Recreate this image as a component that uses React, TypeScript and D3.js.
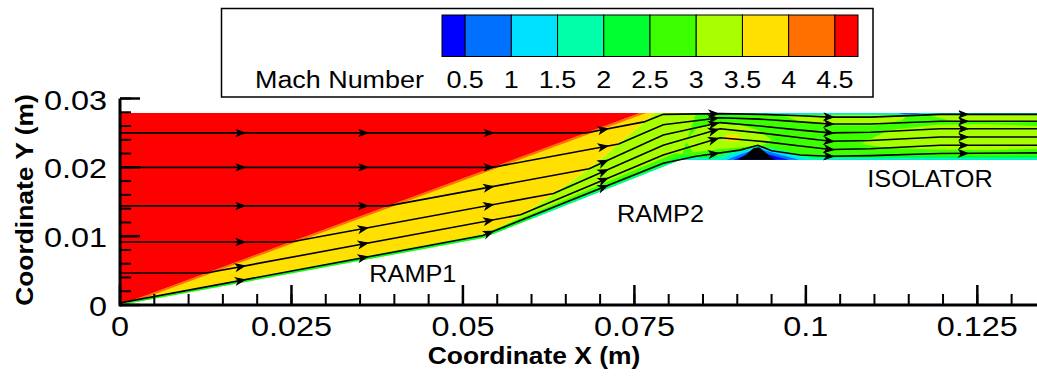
import React from "react";
import * as d3 from "d3";

type Pt = number[];

// Mach legend
const machTicks = [0.5, 1, 1.5, 2, 2.5, 3, 3.5, 4, 4.5];
const machTickLabels = ["0.5", "1", "1.5", "2", "2.5", "3", "3.5", "4", "4.5"];
const machColors = [
  "#0000ff", "#0070ff", "#00e0ff", "#00ffa8", "#00ff30",
  "#3cff00", "#a8ff00", "#ffe000", "#ff7000", "#ff0000",
];
const machRange = [0.25, 4.75];

// axes (m)
const xMajor = [0, 0.025, 0.05, 0.075, 0.1, 0.125];
const xMajorLabels = ["0", "0.025", "0.05", "0.075", "0.1", "0.125"];
const yMajor = [0, 0.01, 0.02, 0.03];
const yMajorLabels = ["0", "0.01", "0.02", "0.03"];

// contour zones: [x, y] in metres, with the Mach number of the band
const limeZone: Pt[] = [[0.0529, 0.00973], [0.06, 0.014], [0.068, 0.0195], [0.074, 0.0245], [0.078, 0.0279], [0.084, 0.0279], [0.083, 0.0211], [0.0817, 0.0211]];
const yellowZone: Pt[] = [[0, 0], [0.0758, 0.0279], [0.078, 0.0279], [0.074, 0.0245], [0.068, 0.0195], [0.06, 0.014], [0.0529, 0.00973]];
const shockBand: Pt[] = [[0, 0], [0.0758, 0.0279], [0.0767, 0.0279], [0.0008, 0]];
const redZone: Pt[] = [[0, 0], [0, 0.0279], [0.0758, 0.0279]];
const ramp1Lime: Pt[] = [[0, 0], [0.0529, 0.00973], [0.0532, 0.0104], [0.0015, 0.0006]];
const ramp1Green: Pt[] = [[0, 0], [0.0529, 0.00973], [0.0531, 0.0101], [0.0012, 0.0004]];
const isolatorZone: Pt[] = [[0.0817, 0.0211], [0.084, 0.0279], [0.1337, 0.0279], [0.1337, 0.0211]];
const limePatch1: Pt[] = [[0.0825, 0.0238], [0.084, 0.0256], [0.087, 0.0264], [0.0905, 0.0262], [0.093, 0.0254], [0.095, 0.024], [0.0938, 0.0232], [0.0905, 0.0229], [0.087, 0.0226], [0.0835, 0.0222]];
const limePatch2: Pt[] = [[0.096, 0.0278], [0.099, 0.0267], [0.104, 0.0261], [0.11, 0.0261], [0.114, 0.0268], [0.115, 0.0278]];
const limePatch3: Pt[] = [[0.108, 0.0234], [0.112, 0.0254], [0.119, 0.0262], [0.126, 0.0263], [0.1337, 0.026], [0.1337, 0.0227], [0.127, 0.0225], [0.119, 0.0226], [0.112, 0.0228]];
const limePatch4: Pt[] = [[0.117, 0.0278], [0.121, 0.0268], [0.128, 0.0265], [0.1337, 0.0266], [0.1337, 0.0278]];
const yellowCore: Pt[] = [[0.0878, 0.0243], [0.0886, 0.0248], [0.0899, 0.0248], [0.0908, 0.0242], [0.0898, 0.0237], [0.0885, 0.0238]];
const ramp2Green: Pt[] = [[0.0529, 0.00973], [0.0817, 0.0211], [0.084, 0.0211], [0.084, 0.0219], [0.0808, 0.022], [0.0532, 0.0104]];
const ramp2Bright: Pt[] = [[0.0529, 0.00973], [0.0817, 0.0211], [0.083, 0.0211], [0.0812, 0.0215], [0.0531, 0.0101]];
const ramp2Aqua: Pt[] = [[0.06, 0.0125], [0.0817, 0.0211], [0.0817, 0.0213], [0.06, 0.0127]];
const floorBright: Pt[] = [[0.0817, 0.0211], [0.1337, 0.0211], [0.1337, 0.0217], [0.0817, 0.0217]];
const floorAqua: Pt[] = [[0.0817, 0.0211], [0.1337, 0.0211], [0.1337, 0.0214], [0.0817, 0.0214]];
const floorCyan: Pt[] = [[0.0817, 0.0211], [0.1337, 0.0211], [0.1337, 0.0212], [0.0817, 0.0212]];
const ceilAqua: Pt[] = [[0.084, 0.0276], [0.1337, 0.0276], [0.1337, 0.0279], [0.084, 0.0279]];
const ceilCyan: Pt[] = [[0.085, 0.0278], [0.1337, 0.0278], [0.1337, 0.0279], [0.085, 0.0279]];
const ceilSpot: Pt[] = [[0.1135, 0.0279], [0.1142, 0.0277], [0.116, 0.0277], [0.1168, 0.0279]];
const bubbleAqua: Pt[] = [[0.086, 0.0211], [0.089, 0.0222], [0.093, 0.0232], [0.097, 0.0224], [0.101, 0.0214], [0.1025, 0.0211]];
const bubbleCyan: Pt[] = [[0.0875, 0.0211], [0.09, 0.0221], [0.093, 0.023], [0.0965, 0.0221], [0.1, 0.0212], [0.101, 0.0211]];
const bubbleAzure: Pt[] = [[0.0885, 0.0211], [0.0905, 0.0219], [0.093, 0.0227], [0.096, 0.0219], [0.099, 0.0211]];
const bubbleBlue: Pt[] = [[0.0895, 0.0211], [0.091, 0.0217], [0.093, 0.0223], [0.0955, 0.0216], [0.0975, 0.0211]];
const bubbleCore: Pt[] = [[0.0901, 0.0211], [0.0912, 0.0218], [0.0924, 0.0228], [0.0932, 0.0229], [0.0942, 0.0221], [0.0952, 0.0213], [0.0956, 0.0211]];

const zones: { pts: Pt[]; mach: number }[] = [
  { pts: limeZone, mach: 3.2 },
  { pts: yellowZone, mach: 3.7 },
  { pts: shockBand, mach: 4.2 },
  { pts: redZone, mach: 4.8 },
  { pts: ramp1Lime, mach: 3.2 },
  { pts: ramp1Green, mach: 2.2 },
  { pts: isolatorZone, mach: 2.7 },
  { pts: limePatch1, mach: 3.2 },
  { pts: limePatch2, mach: 3.2 },
  { pts: limePatch3, mach: 3.2 },
  { pts: limePatch4, mach: 3.2 },
  { pts: yellowCore, mach: 3.7 },
  { pts: ramp2Green, mach: 2.7 },
  { pts: ramp2Bright, mach: 2.2 },
  { pts: ramp2Aqua, mach: 1.7 },
  { pts: floorBright, mach: 2.2 },
  { pts: floorAqua, mach: 1.7 },
  { pts: floorCyan, mach: 1.2 },
  { pts: ceilAqua, mach: 1.7 },
  { pts: ceilCyan, mach: 1.2 },
  { pts: ceilSpot, mach: 0.8 },
  { pts: bubbleAqua, mach: 1.7 },
  { pts: bubbleCyan, mach: 1.2 },
  { pts: bubbleAzure, mach: 0.8 },
  { pts: bubbleBlue, mach: 0.3 },
];

// streamlines
const streamA: Pt[] = [[0, 0.025], [0.0679, 0.025], [0.0764, 0.0266], [0.0792, 0.0277], [0.0875, 0.0278], [0.0933, 0.0277], [0.0992, 0.0275], [0.1036, 0.0273], [0.1094, 0.0273], [0.1196, 0.0277], [0.1337, 0.0277]];
const streamB: Pt[] = [[0, 0.02], [0.0543, 0.02], [0.0727, 0.0234], [0.0792, 0.0262], [0.0875, 0.0272], [0.0933, 0.027], [0.0992, 0.0266], [0.1036, 0.0263], [0.1094, 0.0263], [0.1196, 0.0267], [0.1337, 0.0267]];
const streamC: Pt[] = [[0, 0.0144], [0.0391, 0.0144], [0.0684, 0.0198], [0.0792, 0.0247], [0.0875, 0.0265], [0.0933, 0.026], [0.0992, 0.0254], [0.1036, 0.025], [0.1094, 0.0251], [0.1196, 0.0256], [0.1337, 0.0256]];
const streamD: Pt[] = [[0, 0.00915], [0.0249, 0.00915], [0.0632, 0.0162], [0.0792, 0.0232], [0.0875, 0.0256], [0.0933, 0.025], [0.0992, 0.0243], [0.1036, 0.0238], [0.1094, 0.0239], [0.1196, 0.0244], [0.1337, 0.0244]];
const streamE: Pt[] = [[0, 0.00465], [0.0126, 0.00465], [0.0584, 0.0131], [0.0792, 0.0218], [0.0875, 0.0243], [0.0933, 0.0238], [0.0992, 0.0231], [0.1036, 0.0226], [0.1094, 0.0227], [0.1196, 0.0232], [0.1337, 0.0232]];
const streamF: Pt[] = [[0, 0.0003], [0.0529, 0.0101], [0.0792, 0.0206], [0.084, 0.0216], [0.0904, 0.0225], [0.093, 0.0232], [0.095, 0.0224], [0.0992, 0.0218], [0.1036, 0.0216], [0.1094, 0.0217], [0.1196, 0.022], [0.1337, 0.0221]];
const streamlines = [streamA, streamB, streamC, streamD, streamE, streamF];
const arrowX = [0.0178, 0.0357, 0.054, 0.0707, 0.0868, 0.1036, 0.1232];

const annotations = [
  { text: "RAMP1", x: 0.0427, y: 0.0033 },
  { text: "RAMP2", x: 0.0788, y: 0.0121 },
  { text: "ISOLATOR", x: 0.1181, y: 0.0171 },
];

function SText(props: {
  x: number; y: number; sx?: number; size: number; anchor?: string;
  bold?: boolean; rotate?: number; children: React.ReactNode;
}) {
  const { x, y, sx = 1, size, anchor = "middle", bold, rotate = 0, children } = props;
  return (
    <text
      transform={`translate(${x},${y}) rotate(${rotate}) scale(${sx},1)`}
      fontSize={size}
      fontWeight={bold ? "bold" : "normal"}
      textAnchor={anchor}
      fill="#000"
    >
      {children}
    </text>
  );
}

export default function App() {
  const width = 1037;
  const height = 379;
  const x = d3.scaleLinear().domain([0, 0.1337]).range([120, 1037]);
  const y = d3.scaleLinear().domain([0, 0.03]).range([305, 98.5]);
  const lx = d3.scaleLinear().domain(machRange).range([442, 858]);
  const machColor = d3.scaleThreshold<number, string>().domain(machTicks).range(machColors);
  const line = d3.line<Pt>().x((d) => x(d[0])).y((d) => y(d[1]));
  const xMinor = d3.range(0, 0.1337, 0.005);
  const yMinor = d3.range(0, 0.0301, 0.002);
  const cellEdges = [machRange[0], ...machTicks, machRange[1]];

  // arrowheads sit on each streamline at fixed x stations
  const arrows: { px: number; py: number; ang: number }[] = [];
  streamlines.forEach((s) => {
    arrowX.forEach((ax) => {
      for (let i = 0; i < s.length - 1; i++) {
        const a = s[i], b = s[i + 1];
        if (ax >= a[0] && ax <= b[0]) {
          const t = (ax - a[0]) / (b[0] - a[0]);
          const yy = a[1] + t * (b[1] - a[1]);
          const ang = (Math.atan2(y(b[1]) - y(a[1]), x(b[0]) - x(a[0])) * 180) / Math.PI;
          arrows.push({ px: x(ax), py: y(yy), ang });
          break;
        }
      }
    });
  });

  return (
    <svg
      width={width}
      height={height}
      style={{ position: "absolute", left: 0, top: 0, background: "#fff" }}
      fontFamily="'Liberation Sans', Arial, Helvetica, sans-serif"
    >
      <rect width={width} height={height} fill="#fff" />
      <defs>
        <clipPath id="plotClip">
          <rect x={120} y={98.5} width={917} height={206.5} />
        </clipPath>
      </defs>

      <g clipPath="url(#plotClip)">
        {zones.map((z, i) => (
          <path key={i} d={line(z.pts) + "Z"} fill={machColor(z.mach)} />
        ))}
        <path d={line(bubbleCore) + "Z"} fill="#000" />
        {streamlines.map((s, i) => (
          <path key={i} d={line(s) || ""} fill="none" stroke="#000" strokeWidth={1.6} />
        ))}
        {arrows.map((a, i) => (
          <path
            key={i}
            transform={`translate(${a.px},${a.py}) rotate(${a.ang})`}
            d="M3,0 L-6,-3.5 L-3.5,0 L-6,3.5 Z"
            fill="#000"
            stroke="#000"
            strokeWidth={1}
          />
        ))}
      </g>

      {annotations.map((a) => (
        <SText key={a.text} x={x(a.x)} y={y(a.y)} size={23} sx={1.1}>
          {a.text}
        </SText>
      ))}

      {/* axes */}
      <g stroke="#000" strokeWidth={2}>
        {xMinor.map((t, i) => (
          <line key={i} x1={x(t)} x2={x(t)} y1={y(0)} y2={y(0) - 11} />
        ))}
        {xMajor.map((t, i) => (
          <line key={i} x1={x(t)} x2={x(t)} y1={y(0)} y2={y(0) - 20} strokeWidth={2.5} />
        ))}
        {yMinor.map((t, i) => (
          <line key={i} x1={x(0)} x2={x(0) + 11} y1={y(t)} y2={y(t)} />
        ))}
        {yMajor.map((t, i) => (
          <line key={i} x1={x(0)} x2={x(0) + 20} y1={y(t)} y2={y(t)} strokeWidth={2.5} />
        ))}
        <line x1={x(0)} x2={width} y1={y(0)} y2={y(0)} strokeWidth={3} />
        <line x1={x(0)} x2={x(0)} y1={y(0) + 1.5} y2={y(0.03)} strokeWidth={3} />
      </g>
      {xMajor.map((t, i) => (
        <SText key={i} x={x(t)} y={336} size={27} sx={1.2}>
          {xMajorLabels[i]}
        </SText>
      ))}
      {yMajor.map((t, i) => (
        <SText key={i} x={107} y={y(t) + 11} size={27} sx={1.2} anchor="end">
          {yMajorLabels[i]}
        </SText>
      ))}
      <SText x={534} y={364} size={24} sx={1.1} bold>
        Coordinate X (m)
      </SText>
      <SText x={33} y={200} size={24} sx={1.1} bold rotate={-90}>
        Coordinate Y (m)
      </SText>

      {/* legend */}
      <rect x={221.5} y={8.5} width={651.5} height={88.5} fill="#fff" stroke="#000" strokeWidth={1.5} />
      {machColors.map((c, i) => (
        <rect
          key={i}
          x={lx(cellEdges[i])}
          y={15}
          width={lx(cellEdges[i + 1]) - lx(cellEdges[i])}
          height={41.5}
          fill={c}
          stroke="#000"
          strokeWidth={1}
        />
      ))}
      <SText x={255} y={88} size={23} sx={1.17} anchor="start">
        Mach Number
      </SText>
      {machTicks.map((m, i) => (
        <SText key={i} x={lx(m)} y={88} size={23} sx={1.17}>
          {machTickLabels[i]}
        </SText>
      ))}
    </svg>
  );
}
